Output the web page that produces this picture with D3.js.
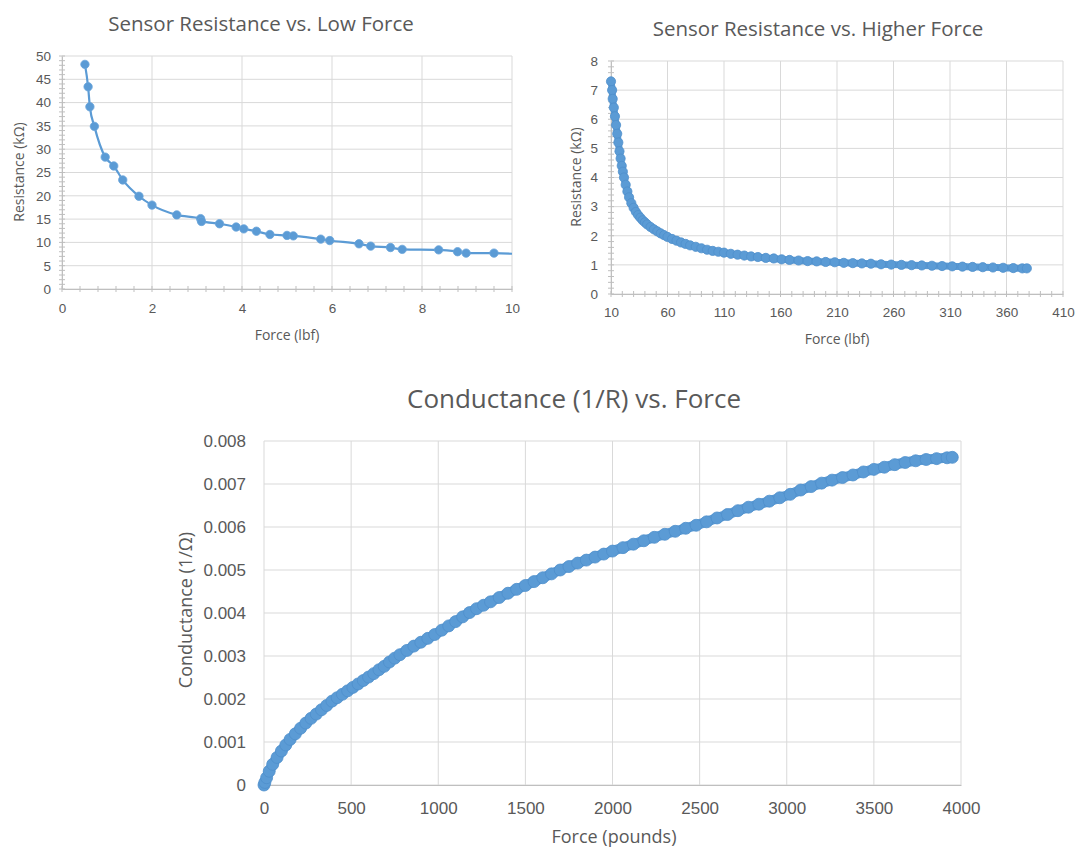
<!DOCTYPE html>
<html>
<head>
<meta charset="utf-8">
<script src="https://cdn.jsdelivr.net/npm/d3@7"></script>
<style>
    body { margin: 0; background: #fff; }
    svg { display: block; font-family: "Open Sans", sans-serif; }
</style>
</head>
<body>
<svg id="chart" width="1079" height="850"></svg>
<script>
// Sensor resistance vs. low force (kΩ vs lbf)
const lowForce = [0.51, 0.58, 0.62, 0.72, 0.96, 1.15, 1.35, 1.71, 2.0, 2.55, 3.08, 3.10, 3.50, 3.87, 4.04, 4.32,
    4.62, 5.0, 5.14, 5.75, 5.95, 6.6, 6.86, 7.3, 7.56, 8.37, 8.79, 8.98, 9.6, 10.4];
const lowResistance = [48.2, 43.4, 39.1, 34.9, 28.3, 26.4, 23.4, 19.9, 18.0, 15.9, 15.1, 14.5, 14.0, 13.3, 12.9, 12.4,
    11.7, 11.5, 11.4, 10.7, 10.4, 9.7, 9.2, 8.9, 8.5, 8.4, 8.0, 7.7, 7.7, 7.3];

// Sensor resistance vs. higher force
const highForce = [10, 11, 11.5, 12.5, 13.5, 14.5, 15.5, 16.5, 17.5, 18.5, 19.5, 20.5, 21.5, 23, 24.5, 26, 28, 30,
    32, 34, 36, 38, 40, 42, 45, 48, 51, 54, 57, 60, 64, 68, 72, 76, 80, 85, 90, 95, 100, 105, 110, 116, 122, 128,
    134, 140, 147, 154, 161, 168, 176, 184, 192, 200, 208, 216, 224, 232, 240, 249, 258, 267, 276, 285, 294, 303,
    312, 321, 330, 339, 348, 357, 366, 374, 378];
const highResistance = [7.3, 7.0, 6.7, 6.4, 6.1, 5.8, 5.5, 5.2, 4.9, 4.65, 4.4, 4.2, 4.0, 3.75, 3.52, 3.32, 3.12, 2.96,
    2.82, 2.71, 2.62, 2.53, 2.46, 2.39, 2.30, 2.22, 2.15, 2.08, 2.02, 1.96, 1.89, 1.83, 1.77, 1.72, 1.67, 1.62, 1.57,
    1.52, 1.48, 1.45, 1.42, 1.38, 1.35, 1.32, 1.29, 1.27, 1.24, 1.22, 1.19, 1.17, 1.15, 1.13, 1.12, 1.10, 1.09, 1.07,
    1.06, 1.05, 1.04, 1.02, 1.01, 1.00, 0.99, 0.98, 0.97, 0.96, 0.95, 0.94, 0.93, 0.92, 0.91, 0.90, 0.89, 0.88, 0.88];

// Conductance vs. force (1/Ω vs pounds)
const condForce = [0, 5, 15, 30, 50, 75, 100, 125, 150, 180, 210, 240, 270, 300, 330, 360, 390, 420, 450, 480, 510,
    540, 570, 600, 630, 660, 690, 720, 750, 780, 820, 860, 900, 940, 980, 1020, 1060, 1100, 1140, 1180, 1220, 1260,
    1300, 1350, 1400, 1450, 1500, 1550, 1600, 1650, 1700, 1750, 1800, 1850, 1900, 1950, 2000, 2060, 2120, 2180, 2240,
    2300, 2360, 2420, 2480, 2540, 2600, 2660, 2720, 2780, 2840, 2900, 2960, 3020, 3080, 3140, 3200, 3260, 3320, 3380,
    3440, 3500, 3560, 3620, 3680, 3740, 3800, 3860, 3920, 3950];
const conductance = [0.00000, 0.00006, 0.00017, 0.00032, 0.00048, 0.00064, 0.00079, 0.00093, 0.00106, 0.00119,
    0.00132, 0.00144, 0.00155, 0.00165, 0.00175, 0.00185, 0.00195, 0.00203, 0.00211, 0.00219, 0.00227, 0.00235,
    0.00243, 0.00251, 0.00259, 0.00268, 0.00276, 0.00286, 0.00295, 0.00303, 0.00313, 0.00323, 0.00332, 0.00341,
    0.00350, 0.00360, 0.00370, 0.00380, 0.00391, 0.00401, 0.00410, 0.00418, 0.00426, 0.00436, 0.00446, 0.00455,
    0.00464, 0.00473, 0.00482, 0.00491, 0.00500, 0.00508, 0.00516, 0.00523, 0.00530, 0.00537, 0.00544, 0.00552,
    0.00560, 0.00568, 0.00576, 0.00583, 0.00590, 0.00597, 0.00604, 0.00612, 0.00621, 0.00629, 0.00638, 0.00646,
    0.00653, 0.00660, 0.00668, 0.00676, 0.00686, 0.00694, 0.00702, 0.00709, 0.00715, 0.00721, 0.00728, 0.00734,
    0.00739, 0.00745, 0.00750, 0.00754, 0.00757, 0.00759, 0.00761, 0.00762];

const lowXTicks = [0, 2, 4, 6, 8, 10];
const lowYTicks = [0, 5, 10, 15, 20, 25, 30, 35, 40, 45, 50];
const highXTicks = [10, 60, 110, 160, 210, 260, 310, 360, 410];
const highYTicks = [0, 1, 2, 3, 4, 5, 6, 7, 8];
const condXTicks = [0, 500, 1000, 1500, 2000, 2500, 3000, 3500, 4000];
const condYTicks = [0, 0.001, 0.002, 0.003, 0.004, 0.005, 0.006, 0.007, 0.008];

const BLUE = '#5b9bd5';
const TEXT = '#595959';
const GRID = '#d9d9d9';
const AXIS = '#bfbfbf';

const svg = d3.select('#chart');

function drawChart(o) {
    const x = d3.scaleLinear().domain([o.xTicks[0], o.xTicks[o.xTicks.length - 1]]).range([o.left, o.right]);
    const y = d3.scaleLinear().domain([o.yTicks[0], o.yTicks[o.yTicks.length - 1]]).range([o.bottom, o.top]);
    const g = svg.append('g');

    // gridlines
    g.append('g').selectAll('line').data(o.xTicks).join('line')
        .attr('x1', d => x(d)).attr('x2', d => x(d))
        .attr('y1', o.top).attr('y2', o.bottom)
        .attr('stroke', GRID).attr('stroke-width', 1);
    g.append('g').selectAll('line').data(o.yTicks).join('line')
        .attr('x1', o.left).attr('x2', o.right)
        .attr('y1', d => y(d)).attr('y2', d => y(d))
        .attr('stroke', GRID).attr('stroke-width', 1);

    // axes
    const xAxis = g.append('g').attr('transform', `translate(0,${o.bottom})`)
        .call(d3.axisBottom(x).tickValues(o.xTicks).tickSize(0).tickSizeOuter(0).tickPadding(o.xPad).tickFormat(d => String(d)));
    const yAxis = g.append('g').attr('transform', `translate(${o.left},0)`)
        .call(d3.axisLeft(y).tickValues(o.yTicks).tickSize(0).tickSizeOuter(0).tickPadding(o.yPad).tickFormat(d => String(d)));
    [xAxis, yAxis].forEach(a => {
        a.selectAll('text').attr('fill', TEXT).style('font-size', o.tickFont + 'px');
        a.select('.domain').attr('stroke', o.showDomain ? AXIS : 'none');
    });
    xAxis.select('.domain').attr('stroke', AXIS);

    // minor cross tick marks
    if (o.xMinor) {
        const vals = d3.range(o.xTicks[0], o.xTicks[o.xTicks.length - 1] + o.xMinor / 2, o.xMinor);
        g.append('g').selectAll('line').data(vals).join('line')
            .attr('x1', d => x(d)).attr('x2', d => x(d))
            .attr('y1', o.bottom - 3).attr('y2', o.bottom + 3)
            .attr('stroke', AXIS);
    }
    if (o.yMinor) {
        const vals = d3.range(o.yTicks[0], o.yTicks[o.yTicks.length - 1] + o.yMinor / 2, o.yMinor);
        g.append('g').selectAll('line').data(vals).join('line')
            .attr('x1', o.left - 3).attr('x2', o.left + 3)
            .attr('y1', d => y(d)).attr('y2', d => y(d))
            .attr('stroke', AXIS);
    }

    // series
    const clipId = 'clip-' + o.id;
    svg.append('clipPath').attr('id', clipId).append('rect')
        .attr('x', o.left - 10).attr('y', o.top - 10)
        .attr('width', o.right - o.left + 10).attr('height', o.bottom - o.top + 20);
    const pts = o.xs.map((d, i) => [d, o.ys[i]]);
    const s = g.append('g').attr('clip-path', `url(#${clipId})`);
    s.append('path').datum(pts)
        .attr('d', d3.line().x(d => x(d[0])).y(d => y(d[1])).curve(d3.curveMonotoneX))
        .attr('fill', 'none').attr('stroke', BLUE).attr('stroke-width', o.lineWidth)
        .attr('stroke-linejoin', 'round').attr('stroke-linecap', 'round');
    s.selectAll('circle').data(pts.filter(d => d[0] <= o.xTicks[o.xTicks.length - 1])).join('circle')
        .attr('cx', d => x(d[0])).attr('cy', d => y(d[1])).attr('r', o.r)
        .attr('fill', BLUE).attr('stroke', o.markerStroke).attr('stroke-width', 0.8);

    // titles
    g.append('text').attr('x', o.titleX).attr('y', o.titleY)
        .attr('text-anchor', 'middle').attr('dominant-baseline', 'central')
        .attr('fill', TEXT).style('font-size', o.titleFont + 'px').text(o.title);
    g.append('text').attr('x', o.xLabelX).attr('y', o.xLabelY)
        .attr('text-anchor', 'middle').attr('dominant-baseline', 'central')
        .attr('fill', TEXT).style('font-size', o.labelFont + 'px').text(o.xLabel);
    g.append('text').attr('transform', `translate(${o.yLabelX},${o.yLabelY}) rotate(-90)`)
        .attr('text-anchor', 'middle').attr('dominant-baseline', 'central')
        .attr('fill', TEXT).style('font-size', o.labelFont + 'px').text(o.yLabel);
}

drawChart({
    id: 'low', xs: lowForce, ys: lowResistance, xTicks: lowXTicks, yTicks: lowYTicks,
    left: 62, right: 512, top: 56, bottom: 289, xPad: 14, yPad: 11, tickFont: 13.5,
    xMinor: 0.4, yMinor: 1, showDomain: true, lineWidth: 2.2, r: 4.2, markerStroke: '#6aa5da',
    title: 'Sensor Resistance vs. Low Force', titleX: 261, titleY: 23, titleFont: 20.5,
    xLabel: 'Force (lbf)', xLabelX: 287, xLabelY: 334,
    yLabel: 'Resistance (kΩ)', yLabelX: 18, yLabelY: 172, labelFont: 14
});

drawChart({
    id: 'high', xs: highForce, ys: highResistance, xTicks: highXTicks, yTicks: highYTicks,
    left: 611, right: 1063, top: 61, bottom: 294, xPad: 13, yPad: 13, tickFont: 13.5,
    xMinor: 10, yMinor: 0.2, showDomain: true, lineWidth: 7, r: 4.6, markerStroke: '#4f8fcb',
    title: 'Sensor Resistance vs. Higher Force', titleX: 818, titleY: 28, titleFont: 20.5,
    xLabel: 'Force (lbf)', xLabelX: 837, xLabelY: 338,
    yLabel: 'Resistance (kΩ)', yLabelX: 575, yLabelY: 177, labelFont: 14
});

drawChart({
    id: 'cond', xs: condForce, ys: conductance, xTicks: condXTicks, yTicks: condYTicks,
    left: 264, right: 961, top: 441, bottom: 785, xPad: 17, yPad: 18, tickFont: 17,
    xMinor: 0, yMinor: 0, showDomain: false, lineWidth: 10, r: 6, markerStroke: '#4f8fcb',
    title: 'Conductance (1/R) vs. Force', titleX: 574, titleY: 398, titleFont: 26,
    xLabel: 'Force (pounds)', xLabelX: 614, xLabelY: 836,
    yLabel: 'Conductance (1/Ω)', yLabelX: 185, yLabelY: 610, labelFont: 18
});
</script>
</body>
</html>
